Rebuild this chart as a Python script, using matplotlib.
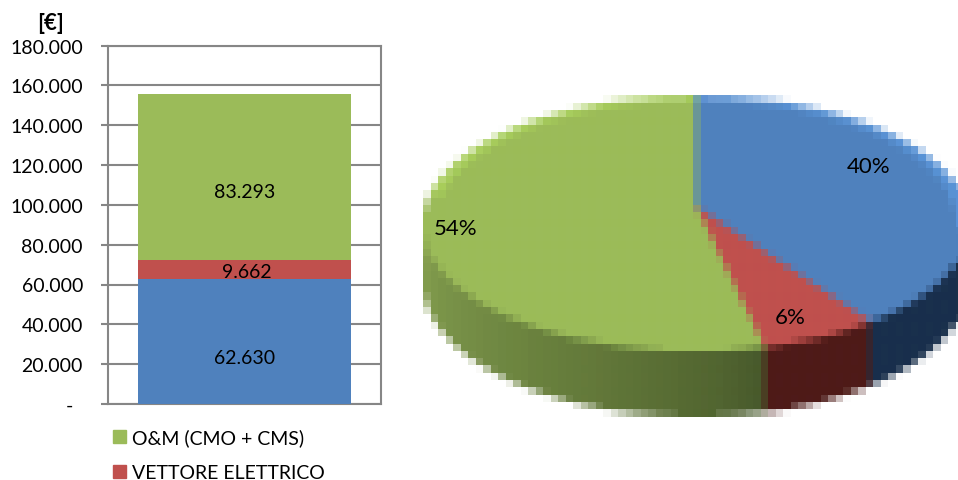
import numpy as np
import matplotlib
matplotlib.use("Agg")
import matplotlib.pyplot as plt
from matplotlib.collections import PolyCollection
from matplotlib.patches import Patch
from matplotlib.ticker import FuncFormatter

plt.rcParams["font.family"] = ["Lato", "DejaVu Sans"]

# Annual cost components, in euro
series_names = ["Blue component", "VETTORE ELETTRICO", "O&M (CMO + CMS)"]
series_values = [62630, 9662, 83293]
series_colors = ["#4F81BD", "#C0504D", "#9BBB59"]
highlight_colors = ["#5A93D6", "#C9504A", "#A8CE5C"]
y_ticks = [0, 20000, 40000, 60000, 80000, 100000, 120000, 140000, 160000, 180000]

W, H = 958, 481
fig = plt.figure(figsize=(W / 100, H / 100), dpi=100, facecolor="white")

# --- stacked column ---
left, right, top, bottom = 108, 381, 46.5, 405
ax = fig.add_axes([left / W, 1 - bottom / H, (right - left) / W, (bottom - top) / H])
GREY = "#868686"


def euro_label(v, _pos=None):
    if v == 0:
        return "-  "
    return f"{int(v):,}".replace(",", ".")


base = 0
for value, color in zip(series_values, series_colors):
    ax.bar(0, value, bottom=base, width=0.78, color=color, zorder=3)
    base += value

# Value labels sit at their own pixel anchors inside each segment
label_anchors = [(244.5, 358.5), (247, 272), (244.5, 193)]
for value, (px, py) in zip(series_values, label_anchors):
    fig.text(px / W, 1 - py / H, euro_label(value), ha="center", va="center",
             fontsize=14, color="black", zorder=6)

ax.set_xlim(-0.5, 0.5)
ax.set_ylim(0, 180000)
ax.set_xticks([])
ax.set_yticks(y_ticks)
ax.yaxis.set_major_formatter(FuncFormatter(euro_label))
ax.tick_params(axis="y", length=5, width=1.5, color=GREY, pad=13, labelsize=14)
ax.grid(axis="y", color=GREY, linewidth=1.5, zorder=1)
ax.set_axisbelow(True)
for spine in ax.spines.values():
    spine.set_color(GREY)
    spine.set_linewidth(1.5)

fig.text(50.5 / W, 1 - 24 / H, "[€]", ha="center", va="center",
         fontsize=16, fontweight="bold")

fig.legend(
    handles=[Patch(color=series_colors[2], label=series_names[2]),
             Patch(color=series_colors[1], label=series_names[1])],
    loc="upper left", bbox_to_anchor=(109 / W, 1 - 425.5 / H),
    frameon=False, fontsize=14, handlelength=0.68, handleheight=0.68,
    handletextpad=0.3, labelspacing=0.92, borderpad=0.2, borderaxespad=0,
)

# --- perspective pie with a side wall ---
pie_ax = fig.add_axes([0, 0, 1, 1], facecolor="none")
pie_ax.set_xlim(0, W)
pie_ax.set_ylim(H, 0)
pie_ax.axis("off")

APEX_X, APEX_Y = 696, 208
SCALE_X, SCALE_Y = 270.7, 125.4
TILT = 0.129
WALL = 57


def project(theta_deg, r=1.0, drop=0.0):
    t = np.radians(theta_deg)
    x, v = r * np.sin(t), -r * np.cos(t)
    w = 1 - TILT * v
    return np.column_stack([APEX_X + SCALE_X * x / w,
                            APEX_Y + SCALE_Y * v / w + drop / w])


def pixelate(img, dpi, bx=7.5, by=7.3):
    # Average the layer over coarse blocks
    h, w = img.shape[:2]
    ix = (np.arange(w) / bx).astype(int)
    iy = ((h - 1 - np.arange(h)) / by).astype(int)
    nx, ny = ix.max() + 1, iy.max() + 1
    weight = np.zeros((ny, nx))
    cover = np.zeros((ny, nx))
    rgb = np.zeros((ny, nx, 3))
    yy, xx = np.meshgrid(iy, ix, indexing="ij")
    a = img[..., 3]
    np.add.at(cover, (yy, xx), a)
    np.add.at(weight, (yy, xx), 1)
    for c in range(3):
        np.add.at(rgb[..., c], (yy, xx), img[..., c] * a)
    out = np.zeros_like(img)
    safe = np.maximum(cover, 1e-6)
    for c in range(3):
        out[..., c] = (rgb[..., c] / safe)[yy, xx]
    out[..., 3] = (cover / np.maximum(weight, 1))[yy, xx]
    return out, 0, 0


fractions = np.array(series_values) / sum(series_values)
edges = np.concatenate([[0], np.cumsum(fractions)]) * 360

polys, colors = [], []


def wall_color(i, theta):
    # Side wall darkens from the far left towards the front seam
    if i == 0:
        return "#1A304C"
    if i == 1:
        return "#4E1C19"
    s = np.clip((theta - edges[2]) / (275 - edges[2]), 0, 1) ** 0.7
    dark, light = np.array([0x45, 0x58, 0x2A]), np.array([0x8C, 0xA6, 0x52])
    return tuple((dark + (light - dark) * s) / 255)


for i in range(3):
    thetas = np.arange(edges[i], edges[i + 1] + 1.5, 1.5)
    thetas[-1] = edges[i + 1]
    for a0, a1 in zip(thetas[:-1], thetas[1:]):
        pair = np.array([a0, a1])
        polys.append(np.vstack([project(pair), project(pair[::-1], drop=WALL)]))
        colors.append(wall_color(i, (a0 + a1) / 2))

for i in range(3):
    thetas = np.linspace(edges[i], edges[i + 1], 200)
    polys.append(np.vstack([[[APEX_X, APEX_Y]], project(thetas)]))
    colors.append(series_colors[i])
    # Brighter bevel along the far edge of the top face
    mask = (thetas < 100) | (thetas > 275)
    if mask.any():
        band = thetas[mask]
        polys.append(np.vstack([project(band), project(band[::-1], r=0.955)]))
        colors.append(highlight_colors[i])

pie = PolyCollection(polys, facecolors=colors, edgecolors="none",
                     antialiaseds=False, zorder=2)
pie.set_agg_filter(pixelate)
pie_ax.add_collection(pie)

pct_positions = [(868.5, 167), (790, 318), (456, 229)]
for frac, (px, py) in zip(fractions, pct_positions):
    pie_ax.text(px, py, f"{frac * 100:.0f}%", ha="center", va="center",
                fontsize=16, color="black", zorder=5)

fig.savefig("out.png", dpi=100)
